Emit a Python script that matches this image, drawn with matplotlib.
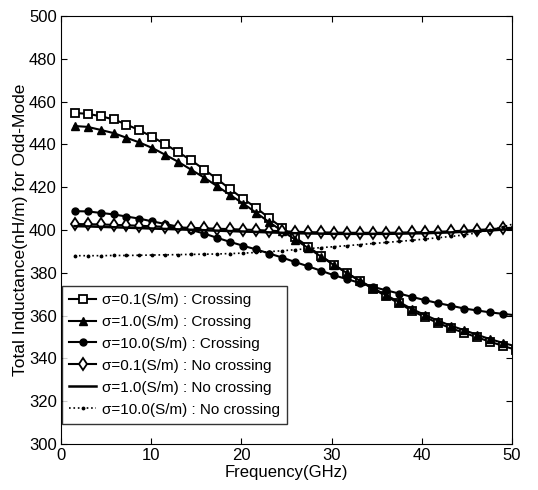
import matplotlib
matplotlib.use("Agg")
import matplotlib.pyplot as plt

plt.rcParams['font.family'] = ['Liberation Sans', 'DejaVu Sans']

# frequency sample points (GHz)
freq = [1.5, 2.94, 4.38, 5.82, 7.26, 8.7, 10.14, 11.58, 13.02, 14.46, 15.9, 17.34,
        18.78, 20.22, 21.66, 23.1, 24.54, 25.98, 27.42, 28.86, 30.3, 31.74, 33.18,
        34.62, 36.06, 37.5, 38.94, 40.38, 41.82, 43.26, 44.7, 46.14, 47.58, 49.02, 50.46]

# total inductance (nH/m)
cross_01 = [454.7, 454.3, 453.2, 451.7, 449.3, 446.6, 443.5, 440.0, 436.3, 432.5, 428.2, 423.7,
            419.0, 414.5, 410.3, 405.5, 401.0, 396.5, 392.2, 387.8, 383.7, 379.8, 376.0,
            372.5, 369.0, 365.7, 362.2, 359.2, 356.5, 354.0, 352.0, 349.8, 347.8, 345.8, 344.0]
cross_1 = [448.6, 448.2, 446.8, 445.3, 443.1, 440.9, 438.3, 435.1, 431.8, 428.1, 424.4, 420.4,
           416.3, 412.3, 408.0, 403.6, 399.5, 395.5, 391.5, 387.5, 383.5, 379.8, 376.2,
           372.8, 369.5, 366.3, 363.0, 360.2, 357.6, 355.2, 353.2, 351.0, 349.0, 347.2, 345.6]
cross_10 = [408.8, 408.7, 408.0, 407.3, 406.3, 405.3, 404.0, 402.8, 401.5, 400.0, 398.3, 396.3,
            394.4, 392.6, 390.9, 389.0, 387.1, 385.0, 383.0, 380.9, 378.8, 377.0, 375.2,
            373.4, 371.8, 370.3, 368.7, 367.2, 365.8, 364.6, 363.3, 362.4, 361.5, 360.8, 360.1]
nocross_01 = [402.8, 402.7, 402.6, 402.4, 402.2, 402.0, 401.7, 401.5, 401.2, 401.0, 400.8, 400.6,
              400.4, 400.2, 400.0, 399.7, 399.4, 399.2, 399.0, 398.9, 398.8, 398.7, 398.7,
              398.7, 398.7, 398.8, 398.9, 399.0, 399.2, 399.4, 399.7, 400.0, 400.4, 400.8, 401.2]
nocross_1 = [401.8, 401.7, 401.5, 401.3, 401.1, 400.9, 400.7, 400.5, 400.3, 400.1, 399.9, 399.7,
             399.5, 399.3, 399.1, 398.9, 398.7, 398.5, 398.4, 398.3, 398.2, 398.2, 398.2,
             398.2, 398.2, 398.3, 398.4, 398.5, 398.7, 398.9, 399.2, 399.5, 399.8, 400.2, 400.6]
nocross_10 = [388.0, 388.0, 388.0, 388.1, 388.1, 388.2, 388.3, 388.4, 388.5, 388.6, 388.7, 388.8,
              389.0, 389.2, 389.5, 389.9, 390.3, 390.8, 391.3, 391.8, 392.2, 392.7, 393.2,
              393.7, 394.2, 394.7, 395.2, 395.8, 396.4, 397.0, 397.7, 398.7, 400.0, 401.5, 403.2]

labels = ["σ=0.1(S/m) : Crossing", "σ=1.0(S/m) : Crossing", "σ=10.0(S/m) : Crossing",
          "σ=0.1(S/m) : No crossing", "σ=1.0(S/m) : No crossing", "σ=10.0(S/m) : No crossing"]

fig = plt.figure(figsize=(5.38, 4.90), dpi=100)
ax = fig.add_axes([0.1134, 0.0939, 0.8383, 0.8734])

ax.plot(freq, cross_01, color='black', lw=1.5, marker='s', ms=5.5, mfc='white', mec='black', mew=1.3, label=labels[0])
ax.plot(freq, cross_1, color='black', lw=1.5, marker='^', ms=6, mfc='black', mec='black', label=labels[1])
ax.plot(freq, cross_10, color='black', lw=1.5, marker='o', ms=5, mfc='black', mec='black', label=labels[2])
ax.plot(freq, nocross_01, color='black', lw=1.5, marker='d', ms=6, mfc='white', mec='black', mew=1.3, label=labels[3])
ax.plot(freq, nocross_1, color='black', lw=1.8, label=labels[4])
ax.plot(freq, nocross_10, color='black', lw=1.2, ls=':', marker='.', ms=3.5, label=labels[5])

ax.set_xlim(0, 50)
ax.set_ylim(300, 500)
ax.set_xticks([0, 10, 20, 30, 40, 50])
ax.set_yticks(range(300, 501, 20))
ax.tick_params(direction='in', top=True, right=True, labelsize=12, length=4, pad=3)
ax.set_xlabel("Frequency(GHz)", fontsize=12, labelpad=1)
ax.set_ylabel("Total Inductance(nH/m) for Odd-Mode", fontsize=12.5, labelpad=1)

leg = ax.legend(loc='upper left', bbox_to_anchor=(0.002, 0.369), fontsize=11, frameon=True,
                fancybox=False, edgecolor='black', handlelength=1.8, handletextpad=0.4,
                borderpad=0.45, labelspacing=0.52, borderaxespad=0.0)
leg.get_frame().set_linewidth(1.0)

fig.savefig("out.png", dpi=100)
